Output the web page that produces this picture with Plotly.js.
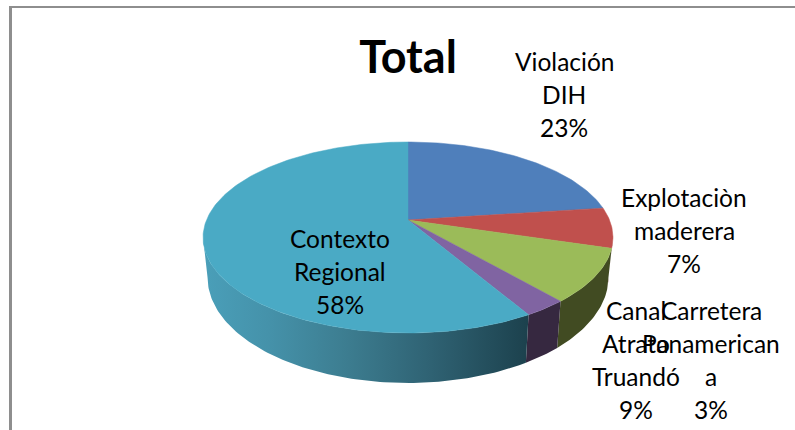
<!DOCTYPE html>
<html>
<head>
<meta charset="utf-8">
<script src="https://cdn.plot.ly/plotly-3.0.1.min.js"></script>
<style>html,body{margin:0;padding:0;background:#fff;overflow:hidden}#c{width:795px;height:430px}</style>
</head>
<body>
<div id="c"></div>
<script>
var categories = ['Violación DIH', 'Explotaciòn maderera', 'Canal Atrato Truandó', 'Carretera Panamericana', 'Contexto Regional'];
var values = [22.9, 6.8, 9, 2.9, 58.4];
var topColors = ['#4f7fbb', '#c0504d', '#9bbb59', '#8064a2', '#4aaac5'];
var sideColors = ['#2f4b6e', '#71302e', '#414b22', '#362840', null];
var labelLines = [['Violación', 'DIH'], ['Explotaciòn', 'maderera'], ['Canal', 'Atrato', 'Truandó'], ['Carretera', 'Panamerican', 'a'], ['Contexto', 'Regional']];
var labelX = [564, 684, 636, 711, 340];
var labelTop = [61, 197, 310, 310, 238];

var cx = 408, cy = 220, A = 201.5, B = 92.3, K = 0.183, LINE = 33;
var rimMidY = 238, lowMidY = 278, SX = 0.978, SY = 1.105;
var tRight = Math.acos(-K), tLeft = 2 * Math.PI - tRight;
function proj(t) {
  var u = Math.sin(t), v = Math.cos(t), w = 1 + K * v;
  return [cx + A * u / w, cy - B * v / w];
}
function arc(t0, t1) {
  var n = Math.max(2, Math.ceil((t1 - t0) / (2 * Math.PI) * 360)), p = [];
  for (var i = 0; i <= n; i++) p.push(proj(t0 + (t1 - t0) * i / n));
  return p;
}
var total = values.reduce(function (a, b) { return a + b; }, 0);
var traces = [], tops = [], cum = 0;
values.forEach(function (val, i) {
  var t0 = cum / total * 2 * Math.PI;
  cum += val;
  var t1 = cum / total * 2 * Math.PI;
  var a = Math.max(t0, tRight), b = Math.min(t1, tLeft);
  if (b > a) {
    var front = arc(a, b);
    var low = front.slice().reverse().map(function (p) {
      return [cx + (p[0] - cx) * SX, lowMidY + (p[1] - rimMidY) * SY];
    });
    var wall = front.concat(low);
    var w = {
      type: 'scatter', mode: 'lines', name: categories[i] + ' (lado)', hoverinfo: 'skip',
      x: wall.map(function (p) { return p[0]; }), y: wall.map(function (p) { return p[1]; }),
      fill: 'toself', line: { width: 0 }, showlegend: false
    };
    if (sideColors[i]) {
      w.fillcolor = sideColors[i];
    } else {
      w.fillcolor = '#3d7f93';
      w.fillgradient = {
        type: 'horizontal',
        colorscale: [[0, '#4a9fb9'], [0.2, '#4592aa'], [0.45, '#3c7c8f'], [0.7, '#2f6273'], [1, '#1c414d']]
      };
    }
    traces.push(w);
  }
  var poly = [[cx, cy]].concat(arc(t0, t1)).concat([[cx, cy]]);
  tops.push({
    type: 'scatter', mode: 'lines', name: categories[i], hoverinfo: 'skip',
    x: poly.map(function (p) { return p[0]; }), y: poly.map(function (p) { return p[1]; }),
    fill: 'toself', fillcolor: topColors[i], line: { width: 0.5, color: topColors[i] }, showlegend: false
  });
});
traces = traces.concat(tops);

var font = 'Lato, Carlito, "Open Sans", sans-serif';
var annotations = [];
function txt(x, y, s) {
  annotations.push({ x: x, y: y, xref: 'x', yref: 'y', text: s, showarrow: false, xanchor: 'center', yanchor: 'middle',
    font: { family: font, size: 24.5, color: '#000' } });
}
labelLines.forEach(function (lines, i) {
  lines.concat([Math.round(values[i]) + '%']).forEach(function (s, j) { txt(labelX[i], labelTop[i] + j * LINE, s); });
});

Plotly.newPlot('c', traces, {
  width: 795, height: 430,
  margin: { l: 0, r: 0, t: 0, b: 0 },
  paper_bgcolor: '#fff', plot_bgcolor: '#fff',
  showlegend: false,
  title: { text: '<b>Total</b>', x: 408 / 795, xanchor: 'center', y: 1 - 57 / 430, yanchor: 'middle',
    font: { family: font, size: 45, color: '#000' } },
  xaxis: { range: [0, 795], visible: false, fixedrange: true },
  yaxis: { range: [430, 0], visible: false, fixedrange: true },
  annotations: annotations,
  shapes: [
    { type: 'line', xref: 'x', yref: 'y', x0: 10.5, x1: 10.5, y0: 6, y1: 430, line: { color: '#8e8e8e', width: 3 } },
    { type: 'line', xref: 'x', yref: 'y', x0: 9, x1: 795, y0: 7, y1: 7, line: { color: '#8e8e8e', width: 2 } }
  ]
}, { displayModeBar: false, staticPlot: true });
</script>
</body>
</html>
